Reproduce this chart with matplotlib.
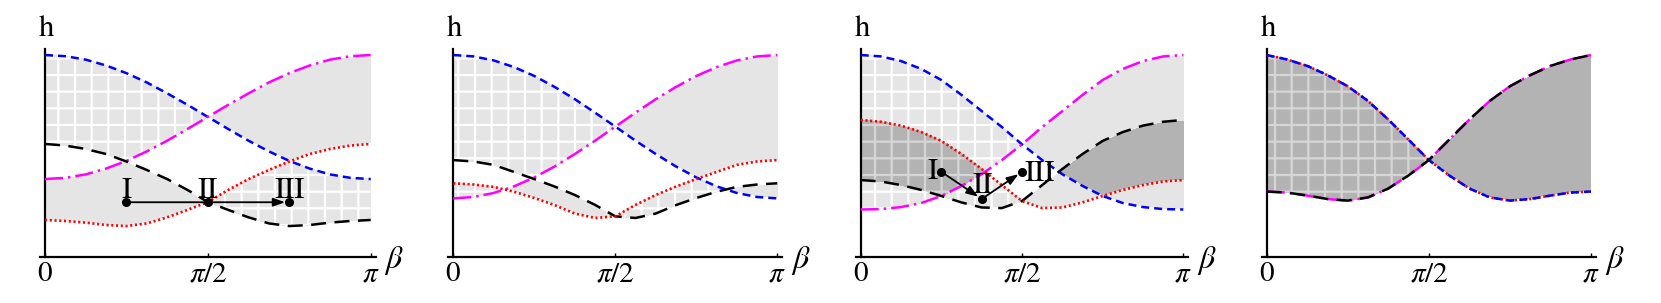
import numpy as np
import matplotlib
matplotlib.use('Agg')
import matplotlib.pyplot as plt

plt.rcParams['mathtext.fontset'] = 'stix'
plt.rcParams['font.family'] = ['STIXGeneral', 'DejaVu Serif']
plt.rcParams['hatch.linewidth'] = 1.6

PI = np.pi
# sample angles beta = k*pi/16, k = 0..16
beta = np.linspace(0, PI, 17)

# ---------------- panel 1 ----------------
blue1 = [1.000, 0.994, 0.977, 0.948, 0.910, 0.864, 0.810, 0.753, 0.693,
         0.633, 0.575, 0.522, 0.475, 0.437, 0.408, 0.391, 0.385]
magenta1 = [0.385, 0.391, 0.408, 0.437, 0.475, 0.522, 0.575, 0.633, 0.693,
            0.753, 0.810, 0.864, 0.910, 0.948, 0.977, 0.994, 1.000]
black1 = [0.559, 0.551, 0.534, 0.509, 0.472, 0.430, 0.385, 0.331, 0.271,
          0.232, 0.195, 0.165, 0.152, 0.157, 0.169, 0.177, 0.182]
red1 = [0.182, 0.177, 0.169, 0.157, 0.152, 0.165, 0.195, 0.232, 0.271,
        0.331, 0.385, 0.430, 0.472, 0.509, 0.534, 0.551, 0.559]

# ---------------- panel 2 ----------------
blue2 = [1.000, 0.993, 0.973, 0.940, 0.896, 0.842, 0.781, 0.714, 0.645,
         0.575, 0.509, 0.447, 0.393, 0.349, 0.316, 0.296, 0.289]
magenta2 = [0.289, 0.296, 0.316, 0.349, 0.393, 0.447, 0.509, 0.575, 0.645,
            0.714, 0.781, 0.842, 0.896, 0.940, 0.973, 0.993, 1.000]
black2 = [0.479, 0.472, 0.455, 0.420, 0.385, 0.348, 0.306, 0.257, 0.200,
          0.192, 0.214, 0.256, 0.291, 0.322, 0.346, 0.358, 0.364]
red2 = [0.364, 0.358, 0.346, 0.322, 0.291, 0.256, 0.214, 0.192, 0.200,
        0.257, 0.306, 0.348, 0.385, 0.420, 0.455, 0.472, 0.479]

# ---------------- panel 3 ----------------
blue3 = [1.000, 0.993, 0.970, 0.931, 0.876, 0.802, 0.722, 0.643, 0.557,
         0.479, 0.409, 0.351, 0.301, 0.266, 0.246, 0.236, 0.234]
magenta3 = [0.234, 0.236, 0.246, 0.266, 0.301, 0.351, 0.409, 0.479, 0.557,
            0.643, 0.722, 0.802, 0.876, 0.931, 0.970, 0.993, 1.000]
black3 = [0.380, 0.373, 0.355, 0.331, 0.301, 0.269, 0.244, 0.241, 0.276,
          0.355, 0.435, 0.509, 0.574, 0.618, 0.650, 0.669, 0.678]
red3 = [0.678, 0.669, 0.650, 0.618, 0.574, 0.509, 0.435, 0.355, 0.276,
        0.241, 0.244, 0.269, 0.301, 0.331, 0.355, 0.373, 0.380]

# ---------------- panel 4 ----------------
blue4 = [1.000, 0.978, 0.946, 0.900, 0.845, 0.772, 0.680, 0.580, 0.479,
         0.403, 0.338, 0.294, 0.278, 0.286, 0.303, 0.318, 0.323]
red4 = [1.000, 0.978, 0.946, 0.900, 0.845, 0.772, 0.680, 0.580, 0.479,
        0.403, 0.338, 0.294, 0.278, 0.286, 0.303, 0.318, 0.323]
magenta4 = [0.323, 0.318, 0.303, 0.286, 0.278, 0.294, 0.338, 0.403, 0.479,
            0.580, 0.680, 0.772, 0.845, 0.900, 0.946, 0.978, 1.000]
black4 = [0.323, 0.318, 0.303, 0.286, 0.278, 0.294, 0.338, 0.403, 0.479,
          0.580, 0.680, 0.772, 0.845, 0.900, 0.946, 0.978, 1.000]

# path points I, II, III
path1_beta = [PI / 4, PI / 2, 3 * PI / 4]
path1_h = [0.270, 0.270, 0.270]
path3_beta = [PI / 4, 3 * PI / 8, PI / 2]
path3_h = [0.421, 0.286, 0.421]
path_labels = ['I', 'II', 'III']

xtick_vals = [0, PI / 2, PI]
xtick_labels = [r'$0$', r'$\pi/2$', r'$\pi$']

# ---------------- layout / style ----------------
W_PX, H_PX = 1661, 303
panel_px = [(45.0, 370.7), (453.3, 777.3), (860.7, 1183.3), (1266.7, 1591.0)]
BASE_PX = 256.7
UNIT_PX = 201.7
YTOP = 1.03
LIGHT = '#e5e5e5'
DARK = '#b3b3b3'

st_blue = dict(color='#0000ff', lw=1.8, dashes=(3.2, 2.0))
st_mag = dict(color='#ff00ff', lw=1.8, dashes=(7.2, 2.0, 1.0, 2.0))
st_black = dict(color='black', lw=1.8, dashes=(6.0, 3.4))
st_red = dict(color='#ff0000', lw=1.9, dashes=(0.8, 1.0))

FS_TICK = 21
FS_H = 22
FS_BETA = 23
FS_PT = 22

fig = plt.figure(figsize=(W_PX / 100, H_PX / 100), dpi=100)

curves = [(blue1, magenta1, black1, red1), (blue2, magenta2, black2, red2),
          (blue3, magenta3, black3, red3), (blue4, magenta4, black4, red4)]

Bf = np.linspace(0, PI, 1100)
Hf = np.linspace(0, YTOP, 800)

for i, ((x0, xp), (bl, mg, bk, rd)) in enumerate(zip(panel_px, curves)):
    left = (x0 - 5) / W_PX
    width = (xp - x0 + 10) / W_PX
    bottom = (H_PX - BASE_PX) / H_PX
    height = YTOP * UNIT_PX / H_PX
    ax = fig.add_axes([left, bottom, width, height])
    d = 5 * PI / (xp - x0)
    ax.set_xlim(-d, PI + d)
    ax.set_ylim(0, YTOP)

    # winding field from the two bands
    b = np.interp(Bf, beta, bl)
    m = np.interp(Bf, beta, mg)
    k = np.interp(Bf, beta, bk)
    r = np.interp(Bf, beta, rd)
    HH = Hf[:, None]
    in1 = (HH >= np.minimum(b, k)) & (HH <= np.maximum(b, k))
    in2 = (HH >= np.minimum(r, m)) & (HH <= np.maximum(r, m))
    s1 = np.where(b > k, 1, -1)
    s2 = np.where(r > m, 1, -1)
    Wf = s1 * in1 + s2 * in2

    ax.contourf(Bf, Hf, Wf, levels=[-2.5, -1.5, -0.5, 0.5, 1.5, 2.5],
                colors=[DARK, LIGHT, 'white', LIGHT, DARK], zorder=1)
    with plt.rc_context({'hatch.color': 'white'}):
        ax.contourf(Bf, Hf, Wf, levels=[0.5, 1.5], colors='none',
                    hatches=['+'], zorder=1.5)
    with plt.rc_context({'hatch.color': '#d6d6d6'}):
        ax.contourf(Bf, Hf, Wf, levels=[1.5, 2.5], colors='none',
                    hatches=['+'], zorder=1.5)

    if i < 3:
        ax.plot(beta, bl, zorder=3, **st_blue)
        ax.plot(beta, mg, zorder=3, **st_mag)
        ax.plot(beta, bk, zorder=3, **st_black)
        ax.plot(beta, rd, zorder=3.1, **st_red)
    else:
        ax.plot(beta, rd, zorder=3, **st_red)
        ax.plot(beta, bl, zorder=3.1, **st_blue)
        ax.plot(beta, mg, zorder=3, **st_mag)
        ax.plot(beta, bk, zorder=3.1, **st_black)

    # axes
    for s in ['top', 'right']:
        ax.spines[s].set_visible(False)
    ax.spines['left'].set_position(('data', 0))
    ax.spines['left'].set_linewidth(1.6)
    ax.spines['bottom'].set_linewidth(1.6)
    ax.set_yticks([])
    ax.set_xticks(xtick_vals)
    ax.set_xticklabels(xtick_labels)
    ax.tick_params(axis='x', direction='in', length=3, width=1,
                   labelsize=FS_TICK, pad=4)
    ax.annotate(r'$\beta$', xy=(PI, 0), xytext=(17, -3),
                textcoords='offset points', ha='center', va='center',
                fontsize=FS_BETA, annotation_clip=False)
    ax.annotate('h', xy=(0, YTOP), xytext=(1, 14),
                textcoords='offset points', ha='center', va='center',
                fontsize=FS_H, annotation_clip=False)

    if i == 0:
        ax.annotate('', xy=(path1_beta[2], path1_h[2]),
                    xytext=(path1_beta[0], path1_h[0]),
                    arrowprops=dict(arrowstyle='-|>,head_length=0.7,head_width=0.25',
                                    color='black', lw=1.3, shrinkA=0, shrinkB=3,
                                    mutation_scale=10), zorder=5)
        ax.plot(path1_beta, path1_h, 'o', color='black', ms=5.5, zorder=6,
                clip_on=False)
        for bx, hy, lab in zip(path1_beta, path1_h, path_labels):
            ax.annotate(lab, xy=(bx, hy), xytext=(0, 3.0),
                        textcoords='offset points', ha='center',
                        va='baseline', fontsize=FS_PT, zorder=6)
    if i == 2:
        for a, c in [(0, 1), (1, 2)]:
            ax.annotate('', xy=(path3_beta[c], path3_h[c]),
                        xytext=(path3_beta[a], path3_h[a]),
                        arrowprops=dict(arrowstyle='-|>,head_length=0.7,head_width=0.25',
                                        color='black', lw=1.3, shrinkA=0,
                                        shrinkB=3, mutation_scale=10), zorder=5)
        ax.plot(path3_beta, path3_h, 'o', color='black', ms=5.5, zorder=6,
                clip_on=False)
        offs = [((-2.5, 0), 'right', 'center'), ((1, 4.0), 'center', 'baseline'),
                ((1.5, -1.5), 'left', 'center')]
        for (bx, hy, lab, (o, ha, va)) in zip(path3_beta, path3_h, path_labels, offs):
            ax.annotate(lab, xy=(bx, hy), xytext=o, textcoords='offset points',
                        ha=ha, va=va, fontsize=FS_PT, zorder=6)

fig.savefig('out.png', dpi=100)
